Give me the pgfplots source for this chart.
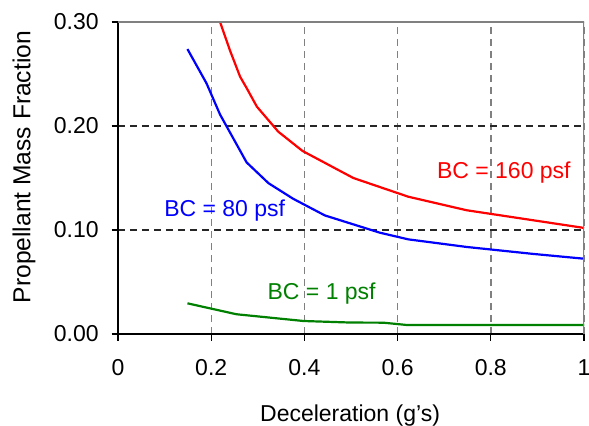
\documentclass[border=0pt]{standalone}
\usepackage{fontspec}
\setmainfont{Liberation Sans}
\usepackage{pgfplots}
\pgfplotsset{compat=1.18}
\definecolor{gridgray}{HTML}{808080}
\definecolor{bcgreen}{HTML}{008000}
\begin{document}
\fontsize{23bp}{27bp}\selectfont
\begin{tikzpicture}
\begin{axis}[
    at={(0,0)}, anchor=south west,
    scale only axis, width=466bp, height=312bp,
    xmin=0, xmax=1, ymin=0, ymax=0.3,
    axis lines*=left,
    axis line style={line width=1.6bp, black},
    xtick={0,0.2,0.4,0.6,0.8,1},
    xticklabels={0,0.2,0.4,0.6,0.8,1},
    ytick={0,0.1,0.2,0.3},
    yticklabels={0.00,0.10,0.20,0.30},
    xticklabel style={yshift=-11.5bp},
    yticklabel style={xshift=-5bp},
    tick align=outside, major tick length=6.5bp,
    tick style={line width=1.3bp, black},
    grid=major,
    x grid style={gridgray, line width=1.4bp, dash pattern=on 7bp off 5bp},
    y grid style={black!85, line width=1.2bp, dash pattern=on 7bp off 5bp},
    xlabel={Deceleration (g's)},
    ylabel={\fontsize{24.6bp}{28bp}\selectfont Propellant Mass Fraction},
    every axis x label/.style={at={(axis description cs:0.498,-0.282)}, anchor=base},
    every axis y label/.style={at={(axis description cs:-0.2017,0.535)}, rotate=90, anchor=center},
]
% BC = 160 psf
\addplot[red, line width=2.2bp] coordinates {
    (0.21,0.311) (0.219,0.300) (0.240,0.273) (0.262,0.2474) (0.276,0.2365)
    (0.298,0.2186) (0.344,0.1945) (0.396,0.176) (0.505,0.150) (0.623,0.132)
    (0.748,0.119) (1.0,0.102)
};
% BC = 80 psf
\addplot[blue, line width=2.2bp] coordinates {
    (0.149,0.274) (0.190,0.241) (0.219,0.211) (0.276,0.165) (0.323,0.145)
    (0.376,0.130) (0.444,0.114) (0.562,0.0974) (0.623,0.091) (0.748,0.0837)
    (0.891,0.077) (1.0,0.0724)
};
% BC = 1 psf
\addplot[bcgreen, line width=2.2bp] coordinates {
    (0.149,0.0295) (0.254,0.019) (0.398,0.0125) (0.5,0.011) (0.569,0.0109)
    (0.619,0.0087) (1.0,0.0087)
};
\node[red, anchor=base] at (axis cs:0.828,0.1497) {BC = 160 psf};
\node[blue, anchor=base] at (axis cs:0.229,0.1125) {BC = 80 psf};
\node[bcgreen, anchor=base] at (axis cs:0.437,0.0334) {BC = 1 psf};
\draw[gridgray, line width=2bp] (rel axis cs:0,1) -- (rel axis cs:1,1) -- (rel axis cs:1,0);
\end{axis}
\pgfresetboundingbox
\path (-118bp,-92bp) rectangle (471bp,334bp);
\end{tikzpicture}
\end{document}
